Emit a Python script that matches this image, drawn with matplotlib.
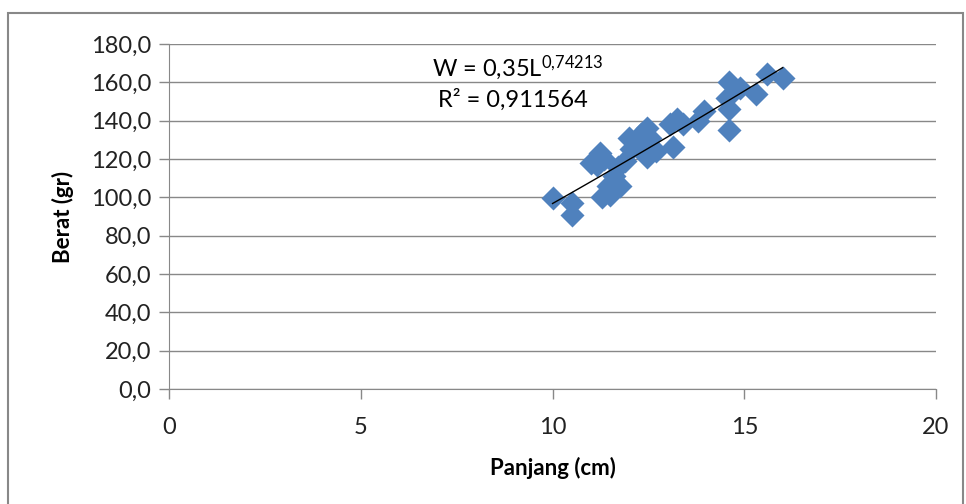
import numpy as np
import matplotlib.pyplot as plt
from matplotlib.patches import Rectangle

# data (Panjang cm, Berat gr)
panjang = [10.0, 10.5, 10.5, 11.0, 11.15, 11.25, 11.35, 11.3, 11.45, 11.5,
           11.6, 11.7, 11.75, 11.9, 12.0, 12.05, 12.2, 12.3, 12.45, 12.45,
           12.55, 12.7, 13.05, 13.15, 13.25, 13.4, 13.8, 13.95, 14.55, 14.6,
           14.6, 14.6, 14.9, 15.3, 15.6, 16.0]
berat = [99.6, 97.0, 91.0, 118.0, 117.0, 123.0, 120.0, 100.0, 106.0, 101.0,
         111.0, 116.0, 106.0, 119.0, 131.0, 125.0, 127.0, 133.0, 136.0, 121.0,
         131.0, 124.0, 138.0, 126.0, 141.0, 138.0, 140.0, 145.0, 152.0, 160.0,
         146.0, 135.0, 157.0, 154.0, 164.5, 162.0]

yticks = [0, 20, 40, 60, 80, 100, 120, 140, 160, 180]
xticks = [0, 5, 10, 15, 20]

plt.rcParams['font.family'] = ['Lato', 'DejaVu Sans']
plt.rcParams['mathtext.fontset'] = 'custom'
plt.rcParams['mathtext.rm'] = 'Lato'
plt.rcParams['mathtext.it'] = 'Lato'
plt.rcParams['mathtext.default'] = 'regular'

fig = plt.figure(figsize=(9.66, 5.04), dpi=100)
ax = fig.add_axes([0.175, 0.228, 0.794, 0.685])

ax.scatter(panjang, berat, marker='D', s=150, color='#4F81BD', linewidths=0, zorder=3)

# power trendline
x = np.array(panjang)
y = np.array(berat)
b, a = np.polyfit(np.log(x), np.log(y), 1)
xs = np.linspace(x.min(), x.max(), 100)
ax.plot(xs, np.exp(a) * xs ** b, color='black', lw=1, zorder=4)

ax.set_xlim(0, 20)
ax.set_ylim(0, 180)
ax.set_xticks(xticks)
ax.set_yticks(yticks)
ax.set_yticklabels([f'{v:.1f}'.replace('.', ',') for v in yticks])
ax.tick_params(labelsize=17, colors='#222222', length=7, width=1, color='#888888', pad=6)
ax.tick_params(axis='x', pad=13)
ax.grid(axis='y', color='#888888', lw=1)
ax.set_axisbelow(True)
for s in ['top', 'right']:
    ax.spines[s].set_visible(False)
for s in ['left', 'bottom']:
    ax.spines[s].set_color('#888888')

ax.set_xlabel('Panjang (cm)', fontsize=16, fontweight='bold', labelpad=14)
ax.set_ylabel('Berat (gr)', fontsize=16, fontweight='bold', labelpad=12)

fig.text(518 / 966, 1 - 68 / 504, r'W = 0,35L$^{0{,}74213}$', ha='center', va='center', fontsize=17)
fig.text(513 / 966, 1 - 100 / 504, 'R² = 0,911564', ha='center', va='center', fontsize=17)

fig.patches.append(Rectangle((8 / 966, -0.05), 955 / 966, 1.05 - 13 / 504, transform=fig.transFigure,
                             fill=False, edgecolor='#888888', lw=1.5))

fig.savefig('out.png', dpi=100)
